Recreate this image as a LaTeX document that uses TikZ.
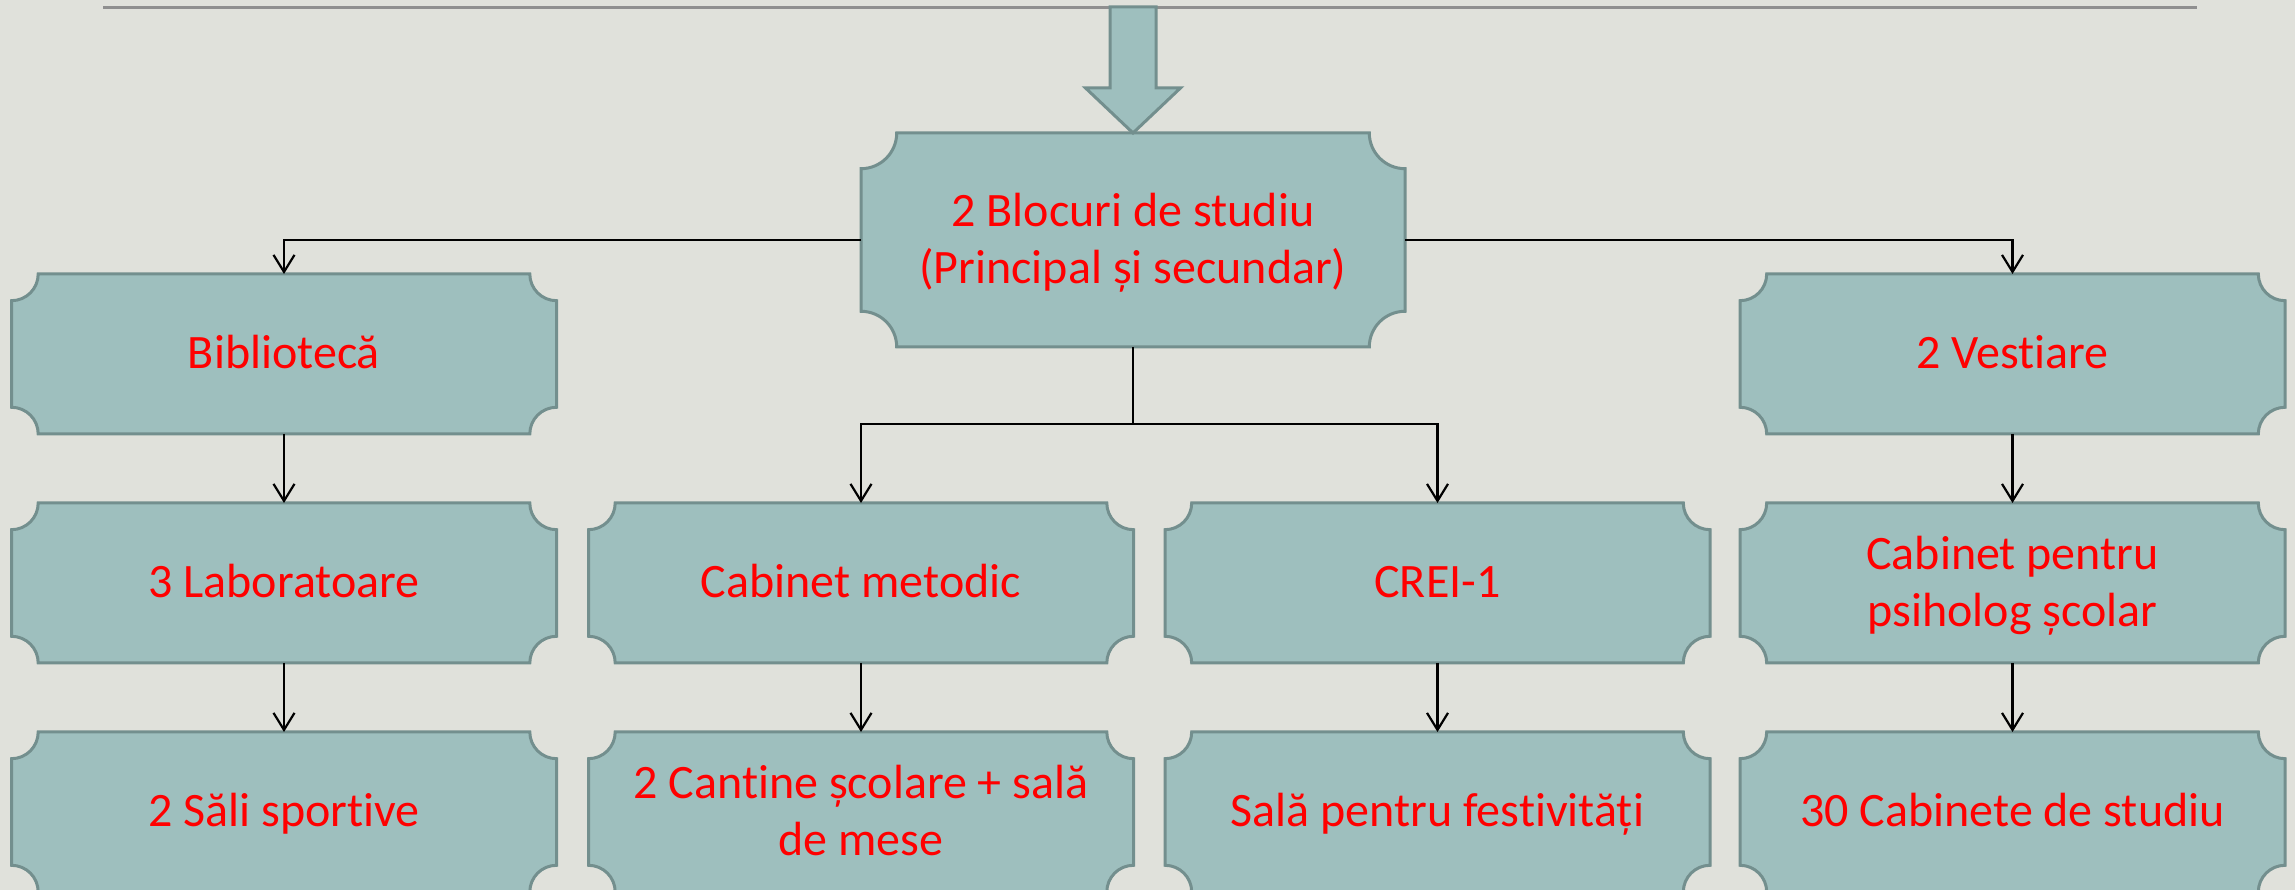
\documentclass[tikz,border=0pt]{standalone}
\usepackage{fontspec}
\setmainfont{Carlito}[Ligatures=NoCommon]
\usetikzlibrary{arrows.meta,calc}
\definecolor{bgc}{RGB}{224,225,219}
\definecolor{boxfill}{RGB}{158,191,190}
\definecolor{boxline}{RGB}{115,143,142}
\definecolor{rulec}{RGB}{143,143,143}
\definecolor{txtred}{RGB}{255,0,0}
\newcommand\plaquepath[2]{%
  \path[plaque] let \p1=(#1.south west), \p2=(#1.north east) in
   (\x1,{\y2-#2}) arc[start angle=-90,end angle=0,radius=#2]
   -- ({\x2-#2},\y2) arc[start angle=180,end angle=270,radius=#2]
   -- (\x2,{\y1+#2}) arc[start angle=90,end angle=180,radius=#2]
   -- ({\x1+#2},\y1) arc[start angle=0,end angle=90,radius=#2] -- cycle;}
\tikzset{
  box/.style={minimum width=545pt, minimum height=160pt, inner sep=0pt, outer sep=0pt},
  plaque/.style={fill=boxfill, draw=boxline, line width=3pt},
  txt/.style={text=txtred, font=\fontsize{48pt}{57pt}\selectfont, inner sep=0pt, anchor=base},
  conn/.style={draw=black, line width=2.2pt, -{Straight Barb[length=17pt,width=21pt]}},
  plainconn/.style={draw=black, line width=2.2pt}
}
\begin{document}
\begin{tikzpicture}[x=1pt,y=1pt]
\fill[bgc] (0,0) rectangle (2295,890);
\useasboundingbox (0,0) rectangle (2295,890);
\clip (0,0) rectangle (2295,890);
% top rule
\draw[rulec, line width=2.5pt] (103,882.5) -- (2197,882.5);
% boxes
\node[box, minimum width=544pt, minimum height=214pt] (blk) at (1133,650) {};
\node[box] (bib) at (284,536) {};
\node[box] (vest) at (2012.5,536) {};
\node[box] (lab) at (284,307) {};
\node[box] (cab) at (861,307) {};
\node[box] (crei) at (1437.5,307) {};
\node[box] (psi) at (2012.5,307) {};
\node[box] (sali) at (284,78) {};
\node[box] (cant) at (861,78) {};
\node[box] (fest) at (1437.5,78) {};
\node[box] (cabs) at (2012.5,78) {};
\plaquepath{blk}{35.7pt}
\foreach \bx in {bib,vest,lab,cab,crei,psi,sali,cant,fest,cabs}{\plaquepath{\bx}{26.7pt}}
% block arrow
\path[plaque] (blk.north) -- ++(47.5,45) -- ++(-24.5,0) -- ++(0,81) -- ++(-46,0) -- ++(0,-81) -- ++(-24.5,0) -- cycle;
% texts
\node[txt] (tblk) at ([yshift=13.5pt]blk.center) {\parbox[t]{540pt}{\centering 2 Blocuri de studiu\\(Principal și secundar)}};
\node[txt] (tbib) at ([yshift=-15pt]bib.center) {Bibliotecă};
\node[txt] (tvest) at ([yshift=-15pt]vest.center) {2 Vestiare};
\node[txt] (tlab) at ([yshift=-15pt]lab.center) {3 Laboratoare};
\node[txt] (tcab) at ([yshift=-15pt]cab.center) {Cabinet metodic};
\node[txt] (tcrei) at ([yshift=-15pt]crei.center) {CREI-1};
\node[txt] (tpsi) at ([yshift=13.5pt]psi.center) {\parbox[t]{540pt}{\centering Cabinet pentru\\psiholog școlar}};
\node[txt] (tsali) at ([yshift=-15pt]sali.center) {2 Săli sportive};
\node[txt] (tcant) at ([yshift=13.5pt]cant.center) {\parbox[t]{540pt}{\centering 2 Cantine școlare + sală\\de mese}};
\node[txt] (tfest) at ([yshift=-15pt]fest.center) {Sală pentru festivități};
\node[txt] (tcabs) at ([yshift=-15pt]cabs.center) {30 Cabinete de studiu};
% connectors
\coordinate (split) at (1133,466);
\draw[conn] (blk.west) -| (bib.north);
\draw[conn] (blk.east) -| (vest.north);
\draw[plainconn] (blk.south) -- (split);
\draw[conn] (split) -| (cab.north);
\draw[conn] (split) -| (crei.north);
\draw[conn] (bib.south) -- (lab.north);
\draw[conn] (lab.south) -- (sali.north);
\draw[conn] (cab.south) -- (cant.north);
\draw[conn] (crei.south) -- (fest.north);
\draw[conn] (vest.south) -- (psi.north);
\draw[conn] (psi.south) -- (cabs.north);
\end{tikzpicture}
\end{document}
